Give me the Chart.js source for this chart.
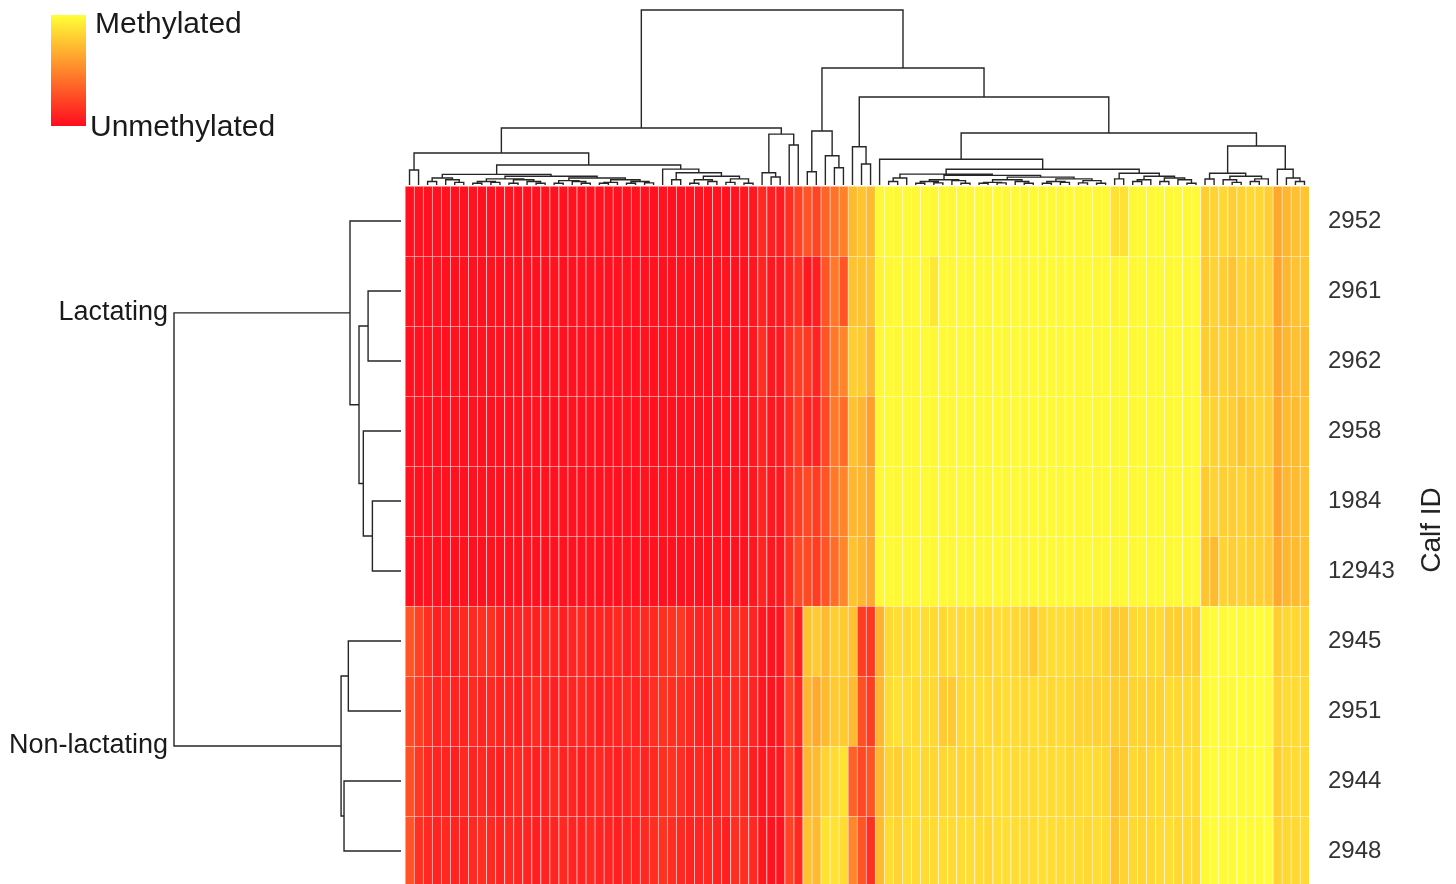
<!DOCTYPE html>
<html>
<head>
<meta charset="utf-8">
<title>Methylation heatmap</title>
<script src="https://cdn.jsdelivr.net/npm/chart.js@4.4.0/dist/chart.umd.min.js"></script>
<style>
  html, body { margin: 0; padding: 0; background: #fff; overflow: hidden; }
  #wrap { position: relative; width: 1456px; height: 884px; }
</style>
</head>
<body>
<div id="wrap"><canvas id="heatmap"></canvas></div>
<script>
// Calf IDs, top to bottom
const calfIds = ['2952', '2961', '2962', '2958', '1984', '12943', '2945', '2951', '2944', '2948'];
const groupLabels = ['Lactating', 'Non-lactating'];

// Methylation level per CpG column (0 = unmethylated, 1 = methylated), columns in dendrogram order
const calf2952 = [
  0.02,0.03,0.02,0.02,0.03,0.02,0.02,0.03,0.02,0.02,
  0.02,0.03,0.02,0.02,0.02,0.03,0.02,0.02,0.03,0.02,
  0.02,0.02,0.03,0.02,0.02,0.03,0.02,0.02,0.03,0.02,
  0.02,0.03,0.02,0.02,0.03,0.02,0.03,0.04,0.05,0.12,
  0.08,0.06,0.14,0.22,0.30,0.24,0.36,0.42,0.48,0.72,
  0.76,0.72,0.97,0.98,0.97,0.98,0.97,0.98,0.97,0.98,
  0.97,0.98,0.97,0.98,0.97,0.98,0.97,0.98,0.97,0.98,
  0.97,0.98,0.97,0.98,0.97,0.98,0.97,0.97,0.88,0.88,
  0.97,0.98,0.97,0.98,0.97,0.98,0.97,0.98,0.80,0.82,
  0.84,0.80,0.82,0.84,0.83,0.80,0.64,0.70,0.74,0.76];
const calf2961 = [
  0.03,0.02,0.02,0.03,0.02,0.02,0.03,0.02,0.02,0.03,
  0.02,0.02,0.03,0.02,0.02,0.02,0.03,0.02,0.02,0.03,
  0.02,0.03,0.02,0.02,0.03,0.02,0.02,0.03,0.02,0.02,
  0.03,0.02,0.02,0.03,0.02,0.03,0.02,0.03,0.04,0.10,
  0.04,0.05,0.10,0.15,0.05,0.08,0.30,0.45,0.30,0.75,
  0.75,0.75,0.96,0.97,0.98,0.97,0.98,0.97,0.90,0.98,
  0.97,0.98,0.97,0.98,0.97,0.98,0.97,0.98,0.97,0.98,
  0.97,0.98,0.97,0.98,0.97,0.98,0.97,0.98,0.96,0.97,
  0.97,0.98,0.97,0.98,0.97,0.98,0.97,0.98,0.78,0.82,
  0.80,0.76,0.82,0.80,0.82,0.82,0.62,0.70,0.75,0.76];
const calf2962 = [
  0.02,0.02,0.03,0.02,0.02,0.03,0.02,0.02,0.03,0.02,
  0.03,0.02,0.02,0.03,0.02,0.02,0.03,0.02,0.02,0.02,
  0.02,0.03,0.02,0.03,0.02,0.02,0.03,0.02,0.02,0.03,
  0.02,0.02,0.03,0.02,0.02,0.03,0.02,0.03,0.04,0.15,
  0.04,0.05,0.15,0.20,0.18,0.10,0.30,0.45,0.50,0.80,
  0.78,0.70,0.97,0.98,0.97,0.98,0.97,0.98,0.97,0.98,
  0.97,0.98,0.97,0.98,0.97,0.98,0.97,0.98,0.97,0.98,
  0.97,0.98,0.97,0.98,0.97,0.98,0.97,0.98,0.97,0.98,
  0.97,0.98,0.97,0.98,0.97,0.98,0.97,0.98,0.80,0.80,
  0.82,0.78,0.80,0.82,0.80,0.80,0.64,0.70,0.74,0.72];
const calf2958 = [
  0.02,0.03,0.02,0.02,0.02,0.03,0.02,0.03,0.02,0.02,
  0.02,0.02,0.03,0.02,0.03,0.02,0.02,0.02,0.03,0.02,
  0.03,0.02,0.02,0.02,0.03,0.02,0.03,0.02,0.02,0.02,
  0.02,0.03,0.02,0.02,0.02,0.03,0.02,0.03,0.04,0.10,
  0.04,0.05,0.12,0.20,0.10,0.10,0.25,0.45,0.40,0.75,
  0.70,0.60,0.97,0.98,0.97,0.98,0.97,0.98,0.97,0.98,
  0.97,0.98,0.97,0.98,0.97,0.98,0.97,0.98,0.97,0.98,
  0.97,0.98,0.97,0.98,0.97,0.98,0.97,0.98,0.97,0.98,
  0.97,0.98,0.97,0.98,0.97,0.98,0.97,0.98,0.84,0.82,
  0.82,0.80,0.76,0.80,0.82,0.80,0.64,0.72,0.72,0.74];
const calf1984 = [
  0.03,0.02,0.02,0.02,0.03,0.02,0.02,0.02,0.03,0.02,
  0.02,0.03,0.02,0.02,0.02,0.03,0.02,0.03,0.02,0.02,
  0.02,0.02,0.03,0.02,0.02,0.02,0.03,0.02,0.03,0.02,
  0.03,0.02,0.02,0.03,0.02,0.02,0.03,0.03,0.04,0.10,
  0.05,0.04,0.15,0.20,0.25,0.20,0.30,0.45,0.50,0.70,
  0.70,0.65,0.97,0.98,0.97,0.98,0.97,0.98,0.97,0.98,
  0.97,0.98,0.97,0.98,0.97,0.98,0.97,0.98,0.97,0.98,
  0.97,0.98,0.97,0.98,0.97,0.98,0.97,0.98,0.97,0.98,
  0.97,0.98,0.97,0.98,0.97,0.98,0.97,0.98,0.78,0.82,
  0.80,0.80,0.82,0.78,0.80,0.80,0.62,0.70,0.72,0.74];
const calf12943 = [
  0.02,0.02,0.03,0.02,0.02,0.02,0.03,0.02,0.02,0.03,
  0.02,0.02,0.02,0.03,0.02,0.02,0.02,0.03,0.02,0.02,
  0.03,0.02,0.02,0.02,0.03,0.02,0.02,0.03,0.02,0.02,
  0.02,0.03,0.02,0.02,0.03,0.02,0.02,0.03,0.05,0.10,
  0.04,0.05,0.15,0.25,0.25,0.20,0.30,0.40,0.50,0.75,
  0.70,0.65,0.97,0.98,0.97,0.98,0.97,0.98,0.97,0.98,
  0.97,0.98,0.97,0.98,0.97,0.98,0.97,0.98,0.97,0.98,
  0.97,0.98,0.97,0.98,0.97,0.98,0.97,0.98,0.97,0.98,
  0.97,0.98,0.97,0.98,0.97,0.98,0.97,0.98,0.76,0.72,
  0.82,0.80,0.82,0.80,0.80,0.78,0.64,0.70,0.72,0.74];
const calf2945 = [
  0.30,0.22,0.15,0.08,0.10,0.08,0.12,0.12,0.14,0.15,
  0.10,0.08,0.10,0.10,0.08,0.12,0.10,0.08,0.10,0.12,
  0.08,0.10,0.10,0.12,0.08,0.10,0.12,0.12,0.15,0.16,
  0.18,0.12,0.10,0.10,0.12,0.08,0.14,0.12,0.10,0.04,
  0.03,0.03,0.25,0.08,0.75,0.78,0.72,0.80,0.78,0.75,
  0.20,0.18,0.68,0.84,0.86,0.85,0.88,0.86,0.85,0.84,
  0.86,0.85,0.86,0.85,0.84,0.86,0.85,0.84,0.82,0.78,
  0.84,0.86,0.86,0.85,0.84,0.85,0.84,0.82,0.78,0.78,
  0.84,0.85,0.84,0.85,0.80,0.80,0.82,0.80,0.98,0.99,
  0.98,0.99,0.98,0.98,0.99,0.98,0.80,0.84,0.84,0.82];
const calf2951 = [
  0.26,0.20,0.14,0.10,0.12,0.10,0.10,0.12,0.10,0.12,
  0.10,0.10,0.08,0.10,0.12,0.10,0.08,0.10,0.10,0.12,
  0.10,0.08,0.10,0.10,0.12,0.10,0.10,0.14,0.16,0.15,
  0.14,0.12,0.10,0.08,0.12,0.10,0.12,0.12,0.10,0.04,
  0.03,0.04,0.22,0.12,0.70,0.65,0.72,0.78,0.78,0.72,
  0.28,0.20,0.70,0.85,0.88,0.86,0.85,0.86,0.84,0.78,
  0.78,0.84,0.85,0.86,0.85,0.84,0.86,0.85,0.84,0.86,
  0.85,0.84,0.85,0.84,0.82,0.82,0.81,0.82,0.80,0.80,
  0.82,0.82,0.82,0.82,0.85,0.84,0.85,0.84,0.98,0.99,
  0.98,0.98,0.99,0.98,0.99,0.98,0.82,0.85,0.85,0.84];
const calf2944 = [
  0.28,0.18,0.12,0.10,0.10,0.08,0.12,0.10,0.12,0.10,
  0.08,0.10,0.12,0.10,0.08,0.10,0.12,0.10,0.10,0.08,
  0.10,0.12,0.10,0.08,0.10,0.12,0.10,0.12,0.15,0.16,
  0.14,0.10,0.12,0.10,0.08,0.12,0.14,0.12,0.08,0.04,
  0.05,0.04,0.22,0.10,0.70,0.72,0.82,0.85,0.88,0.35,
  0.25,0.30,0.70,0.82,0.80,0.84,0.86,0.84,0.83,0.83,
  0.84,0.83,0.84,0.83,0.86,0.87,0.86,0.85,0.86,0.85,
  0.86,0.85,0.86,0.84,0.85,0.86,0.85,0.84,0.75,0.78,
  0.84,0.82,0.84,0.85,0.84,0.85,0.86,0.85,0.98,0.99,
  0.98,0.99,0.98,0.98,0.99,0.98,0.80,0.84,0.85,0.84];
const calf2948 = [
  0.30,0.15,0.12,0.10,0.12,0.10,0.10,0.12,0.14,0.12,
  0.10,0.12,0.10,0.10,0.08,0.10,0.10,0.12,0.10,0.10,
  0.12,0.10,0.10,0.08,0.10,0.10,0.12,0.14,0.16,0.14,
  0.12,0.10,0.10,0.12,0.10,0.08,0.14,0.14,0.12,0.04,
  0.03,0.03,0.22,0.12,0.75,0.72,0.88,0.88,0.85,0.50,
  0.30,0.15,0.72,0.85,0.82,0.86,0.85,0.86,0.85,0.86,
  0.85,0.86,0.86,0.85,0.84,0.86,0.87,0.86,0.85,0.86,
  0.87,0.86,0.85,0.86,0.85,0.84,0.86,0.85,0.76,0.82,
  0.84,0.83,0.84,0.85,0.86,0.84,0.85,0.84,0.98,0.99,
  0.98,0.98,0.99,0.98,0.98,0.99,0.82,0.84,0.84,0.85];

const methylation = [calf2952, calf2961, calf2962, calf2958, calf1984, calf12943,
                     calf2945, calf2951, calf2944, calf2948];

// Column dendrogram: [mergeHeight, left, right], leaves are column numbers
const colTree =
[1.0,
  [0.326,
    [0.183,
      [0.086, 0, 1],
      [0.114,
        [0.061,
          [0.04, [0.02, 2, 3], [0.03, 4, [0.015, 5, 6]]],
          [0.05,
            [0.035, [0.02, [0.01, 7, 8], [0.015, 9, 10]], [0.03, [0.01, 11, 12], [0.02, 13, [0.01, 14, 15]]]],
            [0.04, [0.025, [0.01, 16, 17], [0.02, 18, [0.01, 19, 20]]],
                   [0.03, [0.015, [0.01, 21, 22], 23], [0.02, [0.01, 24, 25], [0.012, 26, 27]]]]]],
        [0.091, 28,
          [0.07, [0.03, 29, 30],
            [0.05, [0.03, [0.01, 31, 32], [0.02, 33, 34]], [0.035, [0.015, 35, 36], [0.01, 37, 38]]]]]]],
    [0.291, [0.07, 39, [0.046, 40, 41]], [0.229, 42, 43]]],
  [0.669,
    [0.309, [0.076, 44, 45], [0.167, 46, [0.099, 47, 48]]],
    [0.503,
      [0.219, 49, [0.12, 50, 51]],
      [0.297,
        [0.147, 52,
          [0.09,
            [0.062,
              [0.04, [0.02, 53, 54], 55],
              [0.055,
                [0.03, [0.02, [0.01, 56, 57], [0.012, 58, 59]], [0.025, 60, [0.01, 61, 62]]],
                [0.045,
                  [0.03, [0.015, [0.01, 63, 64], [0.012, 65, 66]], [0.02, 67, [0.01, 68, 69]]],
                  [0.035, [0.02, [0.01, 70, 71], [0.015, 72, 73]], [0.025, [0.012, 74, 75], [0.01, 76, 77]]]]]],
            [0.067, [0.035, 78, 79],
              [0.05, [0.03, [0.02, 80, 81], 82], [0.04, [0.02, 83, 84], [0.03, 85, [0.01, 86, 87]]]]]]],
        [0.223,
          [0.067, [0.034, 88, 89], [0.05, [0.03, 90, [0.015, 91, 92]], [0.035, [0.02, 93, 94], 95]]],
          [0.09, 96, [0.04, 97, [0.02, 98, 99]]]]]]]];

// Row dendrogram, leaves are row numbers
const rowTree =
[1.0,
  [0.2247, 0, [0.185, [0.145, 1, 2], [0.166, 3, [0.126, 4, 5]]]],
  [0.264, [0.232, 6, 7], [0.251, 8, 9]]];

// red -> yellow ramp
const LOW = [255, 12, 30];
const HIGH = [255, 255, 55];
function rampColor(v, white = 0) {
  const c = LOW.map((lo, i) => lo + (HIGH[i] - lo) * v);
  const m = c.map(x => Math.round(x * (1 - white) + 255 * white));
  return `rgb(${m[0]}, ${m[1]}, ${m[2]})`;
}

// walk a dendrogram and collect the U shaped links
function buildDendro(tree, toPoint) {
  const pts = [];
  function walk(node) {
    if (typeof node === 'number') return { pos: node + 0.5, h: 0 };
    const [h, a, b] = node;
    const l = walk(a), r = walk(b);
    pts.push(toPoint(l.pos, l.h), toPoint(l.pos, h), toPoint(r.pos, h), toPoint(r.pos, r.h), { x: null, y: null });
    return { pos: (l.pos + r.pos) / 2, h, kids: [l, r] };
  }
  const root = walk(tree);
  return { pts, root };
}

const colDen = buildDendro(colTree, (pos, h) => ({ x: pos, y: h }));
const rowDen = buildDendro(rowTree, (pos, h) => ({ x: h, y: pos }));

// layout (pixels)
const W = 1456, H = 884;
const heatLeft = 405, cellW = 9.04, heatTop = 186, cellH = 70;
const colLeafY = 185, colRootY = 10;
const rowLeafX = 401, rowRootX = 174;
const colUnit = colLeafY - colRootY;
const rowUnit = rowLeafX - rowRootX;

const heatDatasets = methylation.map((vals, r) => ({
  type: 'bar',
  label: calfIds[r],
  data: vals.map((v, c) => ({ x: c + 0.5, y: [r, r + 1] })),
  backgroundColor: vals.map(v => rampColor(v)),
  borderColor: vals.map(v => rampColor(v, 0.68)),
  borderWidth: { left: 1, top: 1, right: 0, bottom: 0 },
  borderSkipped: false,
  grouped: false,
  barPercentage: 1,
  categoryPercentage: 1,
  xAxisID: 'x',
  yAxisID: 'y'
}));

const lineStyle = {
  type: 'line',
  borderColor: '#262626',
  borderWidth: 1.4,
  pointRadius: 0,
  tension: 0,
  fill: false,
  spanGaps: false
};

const labelsPlugin = {
  id: 'heatLabels',
  afterDraw(chart) {
    const { ctx, scales } = chart;
    const family = '"Liberation Sans", Arial, sans-serif';
    ctx.save();

    // colour key
    const grad = ctx.createLinearGradient(0, 15, 0, 126);
    [1, 0.75, 0.5, 0.25, 0].forEach((v, i) => grad.addColorStop(i / 4, rampColor(v)));
    ctx.fillStyle = grad;
    ctx.fillRect(51, 15, 35, 111);
    ctx.fillStyle = '#1a1a1a';
    ctx.font = `30px ${family}`;
    ctx.textAlign = 'left';
    ctx.textBaseline = 'alphabetic';
    ctx.fillText('Methylated', 95, 33);
    ctx.fillText('Unmethylated', 90, 136);

    // group labels next to the row dendrogram
    ctx.font = `27px ${family}`;
    ctx.textAlign = 'right';
    ctx.textBaseline = 'middle';
    rowDen.root.kids.forEach((k, i) => {
      ctx.fillText(groupLabels[i], 168, scales.y.getPixelForValue(k.pos));
    });

    // calf IDs
    ctx.fillStyle = '#333';
    ctx.font = `24px ${family}`;
    ctx.textAlign = 'left';
    const xr = scales.x.getPixelForValue(methylation[0].length) + 19;
    calfIds.forEach((id, r) => ctx.fillText(id, xr, scales.y.getPixelForValue(r + 0.5)));

    // axis title
    ctx.fillStyle = '#222';
    ctx.font = `28px ${family}`;
    ctx.translate(1432, 530);
    ctx.rotate(-Math.PI / 2);
    ctx.textAlign = 'center';
    ctx.fillText('Calf ID', 0, 0);
    ctx.restore();
  }
};

new Chart(document.getElementById('heatmap'), {
  type: 'bar',
  data: {
    datasets: [
      ...heatDatasets,
      { ...lineStyle, label: 'columns', data: colDen.pts, xAxisID: 'x', yAxisID: 'yColDen' },
      { ...lineStyle, label: 'rows', data: rowDen.pts, xAxisID: 'xRowDen', yAxisID: 'y' }
    ]
  },
  options: {
    responsive: true,
    maintainAspectRatio: false,
    animation: false,
    events: [],
    layout: { padding: 0 },
    plugins: { legend: { display: false }, tooltip: { enabled: false }, title: { display: false } },
    scales: {
      x: { type: 'linear', display: false, offset: false, grid: { offset: false },
           min: -heatLeft / cellW, max: (W - heatLeft) / cellW },
      y: { type: 'linear', display: false, offset: false, reverse: true,
           min: -heatTop / cellH, max: (H - heatTop) / cellH },
      yColDen: { type: 'linear', display: false, offset: false,
                 min: (colLeafY - H) / colUnit, max: colLeafY / colUnit },
      xRowDen: { type: 'linear', display: false, offset: false, grid: { offset: false }, reverse: true,
                 min: (rowLeafX - W) / rowUnit, max: rowLeafX / rowUnit }
    }
  },
  plugins: [labelsPlugin]
});
</script>
</body>
</html>
